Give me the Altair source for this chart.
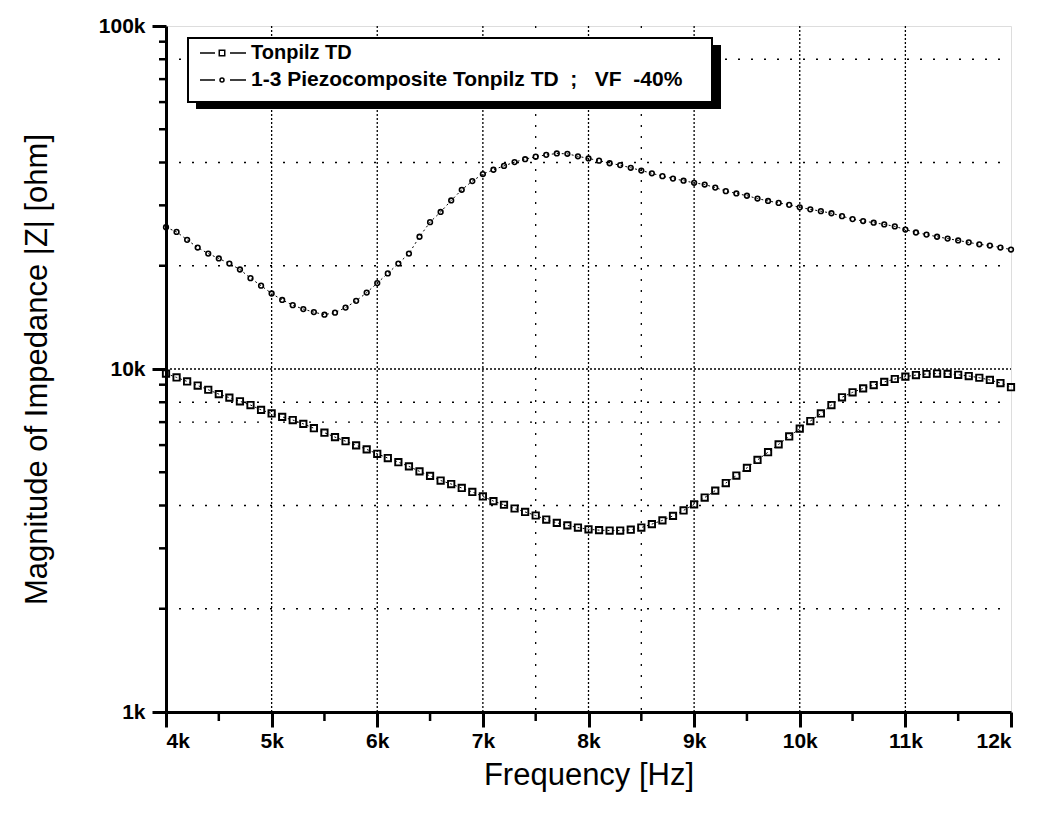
import altair as alt
import pandas as pd

# ---------------- data ----------------
freq_khz = [4.0, 4.1, 4.2, 4.3, 4.4, 4.5, 4.6, 4.7, 4.8, 4.9,
            5.0, 5.1, 5.2, 5.3, 5.4, 5.5, 5.6, 5.7, 5.8, 5.9,
            6.0, 6.1, 6.2, 6.3, 6.4, 6.5, 6.6, 6.7, 6.8, 6.9,
            7.0, 7.1, 7.2, 7.3, 7.4, 7.5, 7.6, 7.7, 7.8, 7.9,
            8.0, 8.1, 8.2, 8.3, 8.4, 8.5, 8.6, 8.7, 8.8, 8.9,
            9.0, 9.1, 9.2, 9.3, 9.4, 9.5, 9.6, 9.7, 9.8, 9.9,
            10.0, 10.1, 10.2, 10.3, 10.4, 10.5, 10.6, 10.7, 10.8, 10.9,
            11.0, 11.1, 11.2, 11.3, 11.4, 11.5, 11.6, 11.7, 11.8, 11.9,
            12.0]

# |Z| in kOhm
tonpilz_kohm = [9.7, 9.45, 9.2, 8.95, 8.7, 8.45, 8.25, 8.05, 7.85, 7.6,
                7.42, 7.25, 7.1, 6.92, 6.72, 6.52, 6.33, 6.16, 5.99, 5.83,
                5.66, 5.5, 5.35, 5.2, 5.03, 4.88, 4.73, 4.62, 4.5, 4.38,
                4.25, 4.12, 4.02, 3.92, 3.83, 3.74, 3.64, 3.56, 3.5, 3.45,
                3.41, 3.39, 3.38, 3.38, 3.4, 3.45, 3.53, 3.62, 3.73, 3.87,
                4.03, 4.22, 4.42, 4.65, 4.89, 5.15, 5.43, 5.72, 6.03, 6.36,
                6.7, 7.05, 7.42, 7.85, 8.27, 8.55, 8.78, 8.98, 9.17, 9.35,
                9.5, 9.6, 9.67, 9.7, 9.68, 9.62, 9.54, 9.43, 9.29, 9.1,
                8.85]

piezo_kohm = [25.9, 25.1, 23.8, 22.6, 21.7, 21.0, 20.3, 19.5, 18.4, 17.5,
              16.6, 15.9, 15.35, 14.95, 14.65, 14.4, 14.6, 15.1, 15.8, 16.7,
              17.8, 19.0, 20.3, 21.7, 24.3, 26.8, 28.7, 31.0, 33.3, 35.3,
              37.0, 38.1, 39.1, 40.1, 40.9, 41.6, 42.1, 42.5, 42.4, 41.7,
              41.1, 40.5, 39.8, 39.3, 38.6, 37.9, 37.2, 36.5, 35.9, 35.4,
              34.9, 34.5, 33.8, 33.0, 32.5, 32.0, 31.4, 30.9, 30.5, 30.1,
              29.6, 29.2, 28.85, 28.45, 27.9, 27.35, 27.0, 26.7, 26.4, 26.05,
              25.5, 25.0, 24.65, 24.3, 24.0, 23.7, 23.4, 23.1, 22.9, 22.6,
              22.3]

series_names = ["Tonpilz TD", "1-3 Piezocomposite Tonpilz TD ; VF -40%"]

x_major = [4000, 5000, 6000, 7000, 8000, 9000, 10000, 11000, 12000]
x_minor = [4500, 5500, 6500, 7500, 8500, 9500, 10500, 11500]
x_grid_major = [5000, 6000, 7000, 8000, 9000, 10000, 11000]
x_grid_minor = [7500, 8500]
y_major = [1000, 10000, 100000]
y_minor = [2000, 3000, 4000, 5000, 6000, 7000, 8000, 9000,
           20000, 30000, 40000, 50000, 60000, 70000, 80000, 90000]
y_grid_major = [10000]
y_grid_minor = [2000, 4000, 7000, 8000, 20000, 40000, 80000]

# ---------------- layout ----------------
W, H = 845, 686
FONT = "Liberation Sans"

rows = []
for f, a, b in zip(freq_khz, tonpilz_kohm, piezo_kohm):
    rows.append({"f": f * 1000, "z": a * 1000, "s": series_names[0]})
    rows.append({"f": f * 1000, "z": b * 1000, "s": series_names[1]})
df = pd.DataFrame(rows)

xscale = alt.Scale(domain=[4000, 12000], nice=False, zero=False)
yscale = alt.Scale(type="log", domain=[1000, 100000], nice=False)

xaxis = alt.Axis(values=x_major, format="~s", grid=False, tickSize=15, tickWidth=3,
                 domainWidth=3, labelFontSize=21, labelFontWeight="bold",
                 labelPadding=3, labelColor="black", tickColor="black", domainColor="black",
                 title="Frequency [Hz]", titleFontSize=31, titleFontWeight="normal",
                 titleBaseline="middle", titleY=63, titleColor="black")
yaxis = alt.Axis(values=y_major, format="~s", grid=False, tickSize=14, tickWidth=3,
                 domainWidth=3, labelFontSize=21, labelFontWeight="bold",
                 labelPadding=7, labelColor="black", tickColor="black", domainColor="black",
                 title="Magnitude of Impedance |Z| [ohm]", titleFontSize=31,
                 titleFontWeight="normal", titleBaseline="middle", titleX=-129,
                 titleY=H / 2, titleColor="black")

base = alt.Chart(df)

# grid
vgrid = alt.Chart(pd.DataFrame({"f": x_grid_major})).mark_rule(
    color="black", strokeWidth=1.3, strokeDash=[2, 2]
).encode(x=alt.X("f:Q", scale=xscale, axis=xaxis), y=alt.value(0), y2=alt.value(H))
vgrid2 = alt.Chart(pd.DataFrame({"f": x_grid_minor})).mark_rule(
    color="black", strokeWidth=1.3, strokeDash=[2, 9]
).encode(x=alt.X("f:Q", scale=xscale), y=alt.value(0), y2=alt.value(H))
hgrid = alt.Chart(pd.DataFrame({"z": y_grid_major})).mark_rule(
    color="black", strokeWidth=1.3, strokeDash=[2, 2]
).encode(y=alt.Y("z:Q", scale=yscale, axis=yaxis), x=alt.value(0), x2=alt.value(W))
hgrid2 = alt.Chart(pd.DataFrame({"z": y_grid_minor})).mark_rule(
    color="black", strokeWidth=1.3, strokeDash=[2, 11]
).encode(y=alt.Y("z:Q", scale=yscale), x=alt.value(0), x2=alt.value(W))

# minor ticks
xmin_ticks = alt.Chart(pd.DataFrame({"f": x_minor})).mark_rule(
    color="black", strokeWidth=2.5
).encode(x=alt.X("f:Q", scale=xscale), y=alt.value(H), y2=alt.value(H + 9))
ymin_ticks = alt.Chart(pd.DataFrame({"z": y_minor})).mark_rule(
    color="black", strokeWidth=2.5
).encode(y=alt.Y("z:Q", scale=yscale), x=alt.value(-7), x2=alt.value(0))

# series
def series(name, shape, size, sw):
    d = base.transform_filter(alt.datum.s == name)
    ln = d.mark_line(color="black", strokeWidth=1, strokeDash=[2, 3]).encode(
        x=alt.X("f:Q", scale=xscale), y=alt.Y("z:Q", scale=yscale))
    pt = d.mark_point(shape=shape, size=size, filled=False, color="black",
                      strokeWidth=sw, opacity=1).encode(
        x=alt.X("f:Q", scale=xscale), y=alt.Y("z:Q", scale=yscale))
    return ln + pt

s1 = series(series_names[0], "square", 40, 1.9)
s2 = series(series_names[1], "circle", 22, 1.6)

# legend (drawn)
one = alt.Data(values=[{}])
lg_shadow = alt.Chart(one).mark_rect(color="black").encode(
    x=alt.value(30), x2=alt.value(555), y=alt.value(19), y2=alt.value(83))
lg_box = alt.Chart(one).mark_rect(fill="white", stroke="black", strokeWidth=2).encode(
    x=alt.value(22), x2=alt.value(546), y=alt.value(12), y2=alt.value(76))
legend_labels = [series_names[0],
                 "1-3 Piezocomposite Tonpilz TD\u00a0\u00a0;\u00a0\u00a0\u00a0VF\u00a0\u00a0-40%"]
legend_sizes = [20, 21]
lg_items = []
for i, (label, shape, size) in enumerate([(legend_labels[0], "square", 30),
                                            (legend_labels[1], "circle", 16)]):
    yy = 27 + i * 27
    lg_items.append(alt.Chart(one).mark_rule(color="black", strokeWidth=1.5).encode(
        x=alt.value(34), x2=alt.value(49), y=alt.value(yy)))
    lg_items.append(alt.Chart(one).mark_rule(color="black", strokeWidth=1.5).encode(
        x=alt.value(64), x2=alt.value(80), y=alt.value(yy)))
    lg_items.append(alt.Chart(one).mark_point(shape=shape, size=size, filled=False,
                                              color="black", strokeWidth=1.5,
                                              opacity=1).encode(
        x=alt.value(56), y=alt.value(yy)))
    lg_items.append(alt.Chart(pd.DataFrame({"t": [label]})).mark_text(
        align="left", baseline="middle", font=FONT, fontSize=legend_sizes[i],
        fontWeight="bold", color="black").encode(
        x=alt.value(85), y=alt.value(yy), text="t:N"))

chart = alt.layer(
    vgrid, vgrid2, hgrid, hgrid2, xmin_ticks, ymin_ticks, s1, s2,
    lg_shadow, lg_box, *lg_items
).properties(
    width=W, height=H,
    autosize=alt.AutoSizeParams(type="none"),
    padding={"left": 158, "top": 18, "right": 20, "bottom": 90},
    background="white",
).configure_view(
    stroke="black", strokeWidth=3
).configure(font=FONT)

chart.save("out.html", embed_options={"renderer": "svg", "actions": False})
